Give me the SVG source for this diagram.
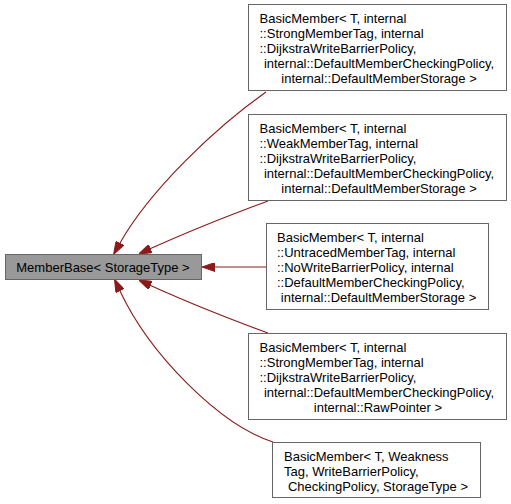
<svg xmlns="http://www.w3.org/2000/svg" width="511" height="504" viewBox="0 0 511 504">
<style>
.box{fill:#ffffff;stroke:#666666;stroke-width:1}
.main{fill:#999999;stroke:#666666;stroke-width:1}
text{font-family:"Liberation Sans",Arial,Helvetica,sans-serif;font-size:13px;fill:#000000}
.c{text-anchor:middle}
.edge{fill:none;stroke:#8b1a1a;stroke-width:1.1;marker-end:url(#arr)}
</style>
<defs>
<marker id="arr" markerUnits="userSpaceOnUse" viewBox="0 0 13 9" refX="0" refY="4.5" markerWidth="13" markerHeight="9" orient="auto">
<path d="M0,0 L13,4.5 L0,9 z" fill="#8b1a1a" stroke="#8b1a1a" stroke-width="1"/>
</marker>
</defs>
<g id="connectors">
<path class="edge" d="M266,92 C215,128 150,190 120,243"/>
<path class="edge" d="M268,201 C230,215 185,233 150.6,248.6"/>
<path class="edge" d="M266,267 L215,267"/>
<path class="edge" d="M268,333 C230,319 185,301 150.6,285.4"/>
<path class="edge" d="M273,442 C220,425 150,355 120,291"/>
</g>
<g id="MemberBase">
<rect class="main" x="5.5" y="254.5" width="196" height="25"/>
<text class="c" x="103" y="271.5">MemberBase&lt; StorageType &gt;</text>
</g>
<g id="BasicMember1">
<rect class="box" x="248.5" y="4.5" width="258" height="86"/>
<text x="259.5" y="23">BasicMember&lt; T, internal</text>
<text x="259.5" y="38">::StrongMemberTag, internal</text>
<text x="259.5" y="53">::DijkstraWriteBarrierPolicy,</text>
<text class="c" x="379" y="68">internal::DefaultMemberCheckingPolicy,</text>
<text class="c" x="379" y="83">internal::DefaultMemberStorage &gt;</text>
</g>
<g id="BasicMember2">
<rect class="box" x="248.5" y="114.5" width="258" height="86"/>
<text x="259.5" y="133">BasicMember&lt; T, internal</text>
<text x="259.5" y="148">::WeakMemberTag, internal</text>
<text x="259.5" y="163">::DijkstraWriteBarrierPolicy,</text>
<text class="c" x="379" y="178">internal::DefaultMemberCheckingPolicy,</text>
<text class="c" x="379" y="193">internal::DefaultMemberStorage &gt;</text>
</g>
<g id="BasicMember3">
<rect class="box" x="266.5" y="223.5" width="222" height="86"/>
<text x="277" y="242">BasicMember&lt; T, internal</text>
<text x="277" y="257">::UntracedMemberTag, internal</text>
<text x="277" y="272">::NoWriteBarrierPolicy, internal</text>
<text x="277" y="287">::DefaultMemberCheckingPolicy,</text>
<text class="c" x="378.5" y="302">internal::DefaultMemberStorage &gt;</text>
</g>
<g id="BasicMember4">
<rect class="box" x="248.5" y="333.5" width="258" height="86"/>
<text x="259.5" y="352">BasicMember&lt; T, internal</text>
<text x="259.5" y="367">::StrongMemberTag, internal</text>
<text x="259.5" y="382">::DijkstraWriteBarrierPolicy,</text>
<text class="c" x="379" y="397">internal::DefaultMemberCheckingPolicy,</text>
<text class="c" x="378" y="412">internal::RawPointer &gt;</text>
</g>
<g id="BasicMember5">
<rect class="box" x="272.5" y="442.5" width="208" height="55"/>
<text x="284" y="461">BasicMember&lt; T, Weakness</text>
<text x="284" y="476">Tag, WriteBarrierPolicy,</text>
<text class="c" x="378" y="491">CheckingPolicy, StorageType &gt;</text>
</g>
</svg>
